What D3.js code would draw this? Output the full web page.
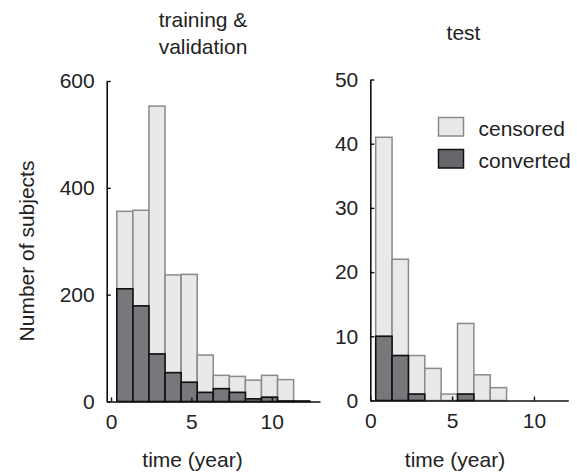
<!DOCTYPE html>
<html>
<head>
<meta charset="utf-8">
<script src="https://cdn.jsdelivr.net/npm/d3@7"></script>
<style>
  html, body { margin: 0; padding: 0; background: #fff; }
  svg { display: block; }
  text { font-family: "Liberation Sans", Arial, sans-serif; fill: #222; }
</style>
</head>
<body>
<svg id="chart" width="577" height="472"></svg>
<script>
// Histogram bins (left edge, in years); every bin is one year wide
const binWidth = 1;
const trainBinStarts = [0.36, 1.36, 2.36, 3.36, 4.36, 5.36, 6.36, 7.36, 8.36, 9.36, 10.36, 11.36];
const testBinStarts  = [0.33, 1.33, 2.33, 3.33, 4.33, 5.33, 6.33, 7.33, 8.33, 9.33, 10.33, 11.33];

// Counts per bin, training & validation set
const trainConverted = [211, 179, 89, 54, 36, 17, 24, 17, 5, 8, 1, 1];
const trainCensored  = [145, 179, 464, 183, 202, 70, 25, 30, 35, 41, 40, 0];

// Counts per bin, test set
const testConverted = [10, 7, 1, 0, 0, 1, 0, 0, 0, 0, 0, 0];
const testCensored  = [31, 15, 6, 5, 1, 11, 4, 2, 0, 0, 0, 0];

// Axis ticks
const trainYTicks = [0, 200, 400, 600];
const testYTicks  = [0, 10, 20, 30, 40, 50];
const xTicks = [0, 5, 10];

const seriesNames = ["censored", "converted"];

const svg = d3.select("#chart");
const FONT = 21;

const lightFill = "#e9e9e9", lightStroke = "#8a8a8a";
const darkFill = "#78787c", darkStroke = "#111";

function drawPanel(cfg) {
  const x = d3.scaleLinear().domain(cfg.xDomain).range(cfg.xRange);
  const y = d3.scaleLinear().domain(cfg.yDomain).range(cfg.yRange);

  const rows = cfg.starts.map((s, i) => ({
    start: s, converted: cfg.converted[i], censored: cfg.censored[i]
  }));
  const stacked = d3.stack().keys(["converted", "censored"])(rows);
  const [convLayer, censLayer] = stacked;

  const g = svg.append("g");

  // censored part (stacked on top of converted)
  g.append("g").selectAll("rect")
    .data(censLayer.filter(d => d[1] > d[0]))
    .join("rect")
    .attr("x", d => x(d.data.start))
    .attr("width", d => x(d.data.start + binWidth) - x(d.data.start))
    .attr("y", d => y(d[1]))
    .attr("height", d => y(d[0]) - y(d[1]))
    .attr("fill", lightFill)
    .attr("stroke", lightStroke)
    .attr("stroke-width", 1.5);

  // converted part
  g.append("g").selectAll("rect")
    .data(convLayer)
    .join("rect")
    .attr("x", d => x(d.data.start))
    .attr("width", d => x(d.data.start + binWidth) - x(d.data.start))
    .attr("y", d => y(d[1]))
    .attr("height", d => y(d[0]) - y(d[1]))
    .attr("fill", darkFill)
    .attr("stroke", darkStroke)
    .attr("stroke-width", 1.6);

  // axes, ticks pointing inward
  const yAxis = g.append("g")
    .attr("transform", `translate(${cfg.xRange[0]},0)`)
    .call(d3.axisLeft(y).tickValues(cfg.yTicks).tickSize(-4).tickSizeOuter(0).tickPadding(12));
  const xAxis = g.append("g")
    .attr("transform", `translate(0,${cfg.yRange[0]})`)
    .call(d3.axisBottom(x).tickValues(xTicks).tickSize(-4).tickSizeOuter(0).tickPadding(13));

  [yAxis, xAxis].forEach(a => {
    a.select(".domain").attr("stroke", "#111").attr("stroke-width", 1.6);
    a.selectAll(".tick line").attr("stroke", "#111").attr("stroke-width", 1.4);
    a.selectAll(".tick text")
      .attr("font-size", FONT)
      .attr("font-family", "Liberation Sans, Arial, sans-serif")
      .attr("fill", "#222");
  });

  // x-axis title
  g.append("text")
    .attr("x", cfg.xTitleX)
    .attr("y", 467)
    .attr("text-anchor", "middle")
    .attr("font-size", FONT)
    .text("time (year)");

  // panel title
  const t = g.append("text")
    .attr("x", cfg.titleX)
    .attr("text-anchor", "middle")
    .attr("font-size", FONT);
  cfg.title.forEach((line, i) => {
    t.append("tspan")
      .attr("x", cfg.titleX)
      .attr("y", cfg.titleY + i * 26.5)
      .text(line);
  });
}

drawPanel({
  starts: trainBinStarts,
  converted: trainConverted,
  censored: trainCensored,
  xDomain: [-0.27, 13.0], xRange: [106.7, 320],
  yDomain: [0, 600], yRange: [401.5, 81],
  yTicks: trainYTicks,
  title: ["training &", "validation"], titleX: 203, titleY: 27,
  xTitleX: 192.5
});

drawPanel({
  starts: testBinStarts,
  converted: testConverted,
  censored: testCensored,
  xDomain: [0, 12.1], xRange: [370.3, 568.3],
  yDomain: [0, 50], yRange: [400.5, 79.5],
  yTicks: testYTicks,
  title: ["test"], titleX: 463.5, titleY: 40,
  xTitleX: 455
});

// y-axis label
svg.append("text")
  .attr("transform", "translate(34,251) rotate(-90)")
  .attr("text-anchor", "middle")
  .attr("font-size", FONT)
  .text("Number of subjects");

// legend
const legend = svg.append("g").attr("transform", "translate(438.5,117.5)");
const legendStyles = {
  censored: { fill: lightFill, stroke: lightStroke },
  converted: { fill: "#67676b", stroke: darkStroke }
};
seriesNames.forEach((name, i) => {
  const row = legend.append("g").attr("transform", `translate(0,${i * 32})`);
  row.append("rect")
    .attr("width", 25).attr("height", 18.5)
    .attr("fill", legendStyles[name].fill)
    .attr("stroke", legendStyles[name].stroke)
    .attr("stroke-width", 1.5);
  row.append("text")
    .attr("x", 40).attr("y", 18)
    .attr("font-size", FONT)
    .text(name);
});
</script>
</body>
</html>
